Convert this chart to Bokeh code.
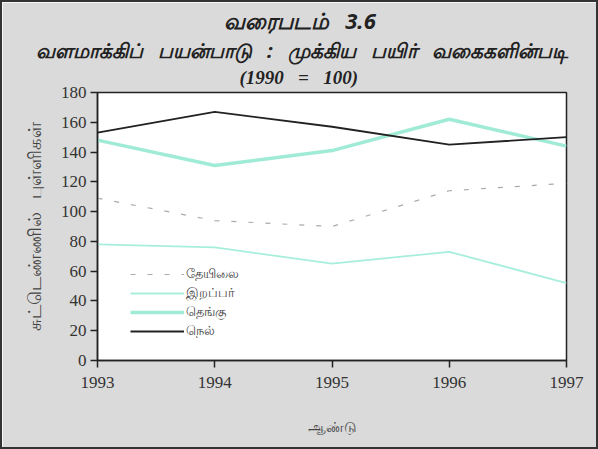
from bokeh.plotting import figure
from bokeh.models import Title, Legend, LegendItem, FixedTicker, Range1d
from bokeh.embed import file_html
from bokeh.resources import INLINE

years = [1993, 1994, 1995, 1996, 1997]
tea = [109, 94, 90, 114, 119]
rubber = [78, 76, 65, 73, 52]
coconut = [148, 131, 141, 162, 144]
paddy = [153, 167, 157, 145, 150]

series_names = ["தேயிலை", "இறப்பர்", "தெங்கு", "நெல்"]
y_ticks = [0, 20, 40, 60, 80, 100, 120, 140, 160, 180]

GAP = " \u2002"
title1 = GAP.join(["வரைபடம்", "3.6"])
title2 = GAP.join(["வளமாக்கிப்", "பயன்பாடு", ":", "முக்கிய", "பயிர்", "வகைகளின்படி"])
title3 = GAP.join(["(1990", "=", "100)"])
x_label = "ஆண்டு"
y_label = "சுட்டெண்ணில் \u2002புள்ளிகள்"

TAMIL_FONT = "Noto Sans"
SERIF = "Liberation Serif"

W, H = 598, 449
p = figure(width=W, height=H, output_backend="svg", toolbar_location=None,
           x_range=Range1d(1993, 1997), y_range=Range1d(0, 180),
           min_border_left=95, min_border_right=34, min_border_top=0, min_border_bottom=91)
p.styles = {"border": "2px solid #333333", "box-sizing": "border-box"}
p.background_fill_color = "white"
p.border_fill_color = "#dadada"
p.outline_line_color = "#222222"
p.outline_line_width = 1.5
p.xgrid.visible = False
p.ygrid.visible = False

# (text, size, font, offset from frame left so the text is centred on the page, standoff, valign)
for txt, size, font, off, so, va in [(title3, "19px", "serif", 142, 6, "top"),
                                     (title2, "20px", TAMIL_FONT, -62, 0, "bottom"),
                                     (title1, "22px", TAMIL_FONT, 126, 0, "bottom")]:
    p.add_layout(Title(text=txt, align="left", offset=off, text_font=font,
                       text_font_size=size, text_font_style="bold italic",
                       text_color="#222222", standoff=so, vertical_align=va), "above")

r_tea = p.line(years, tea, line_color="#aaaaaa", line_width=1.2, line_dash="5 12")
r_rub = p.line(years, rubber, line_color="#a8eedc", line_width=1.8)
r_coc = p.line(years, coconut, line_color="#a0ebd6", line_width=3.5)
r_pad = p.line(years, paddy, line_color="#222222", line_width=1.8)

legend = Legend(items=[LegendItem(label=series_names[0], renderers=[r_tea]),
                       LegendItem(label=series_names[1], renderers=[r_rub]),
                       LegendItem(label=series_names[2], renderers=[r_coc]),
                       LegendItem(label=series_names[3], renderers=[r_pad])],
                location=(33, 20), background_fill_alpha=0, border_line_alpha=0,
                label_text_font=TAMIL_FONT, label_text_font_size="13px",
                glyph_width=54, glyph_height=14, spacing=-5, padding=0,
                label_standoff=2, label_height=14)
p.add_layout(legend, "center")

p.xaxis.ticker = FixedTicker(ticks=years)
p.yaxis.ticker = FixedTicker(ticks=y_ticks)
p.axis.major_label_text_font = SERIF
p.axis.major_label_text_font_size = "17px"
p.axis.major_label_text_color = "#333333"
p.axis.axis_line_color = "#222222"
p.axis.axis_line_width = 1.5
p.axis.major_tick_line_color = "#222222"
p.axis.major_tick_line_width = 1.5
p.axis.major_tick_out = 7
p.axis.major_tick_in = 0
p.axis.minor_tick_line_color = None
p.axis.axis_label_text_font = TAMIL_FONT
p.axis.axis_label_text_font_style = "normal"
p.axis.axis_label_text_color = "#444444"

p.xaxis.axis_label = x_label
p.xaxis.axis_label_text_font_size = "14px"
p.xaxis.major_label_standoff = 9
p.xaxis.axis_label_standoff = 26
p.yaxis.axis_label = y_label
p.yaxis.axis_label_text_font_size = "18px"
p.yaxis.major_label_standoff = 4
p.yaxis.axis_label_standoff = 12

open("out.html", "w").write(file_html(p, INLINE))
